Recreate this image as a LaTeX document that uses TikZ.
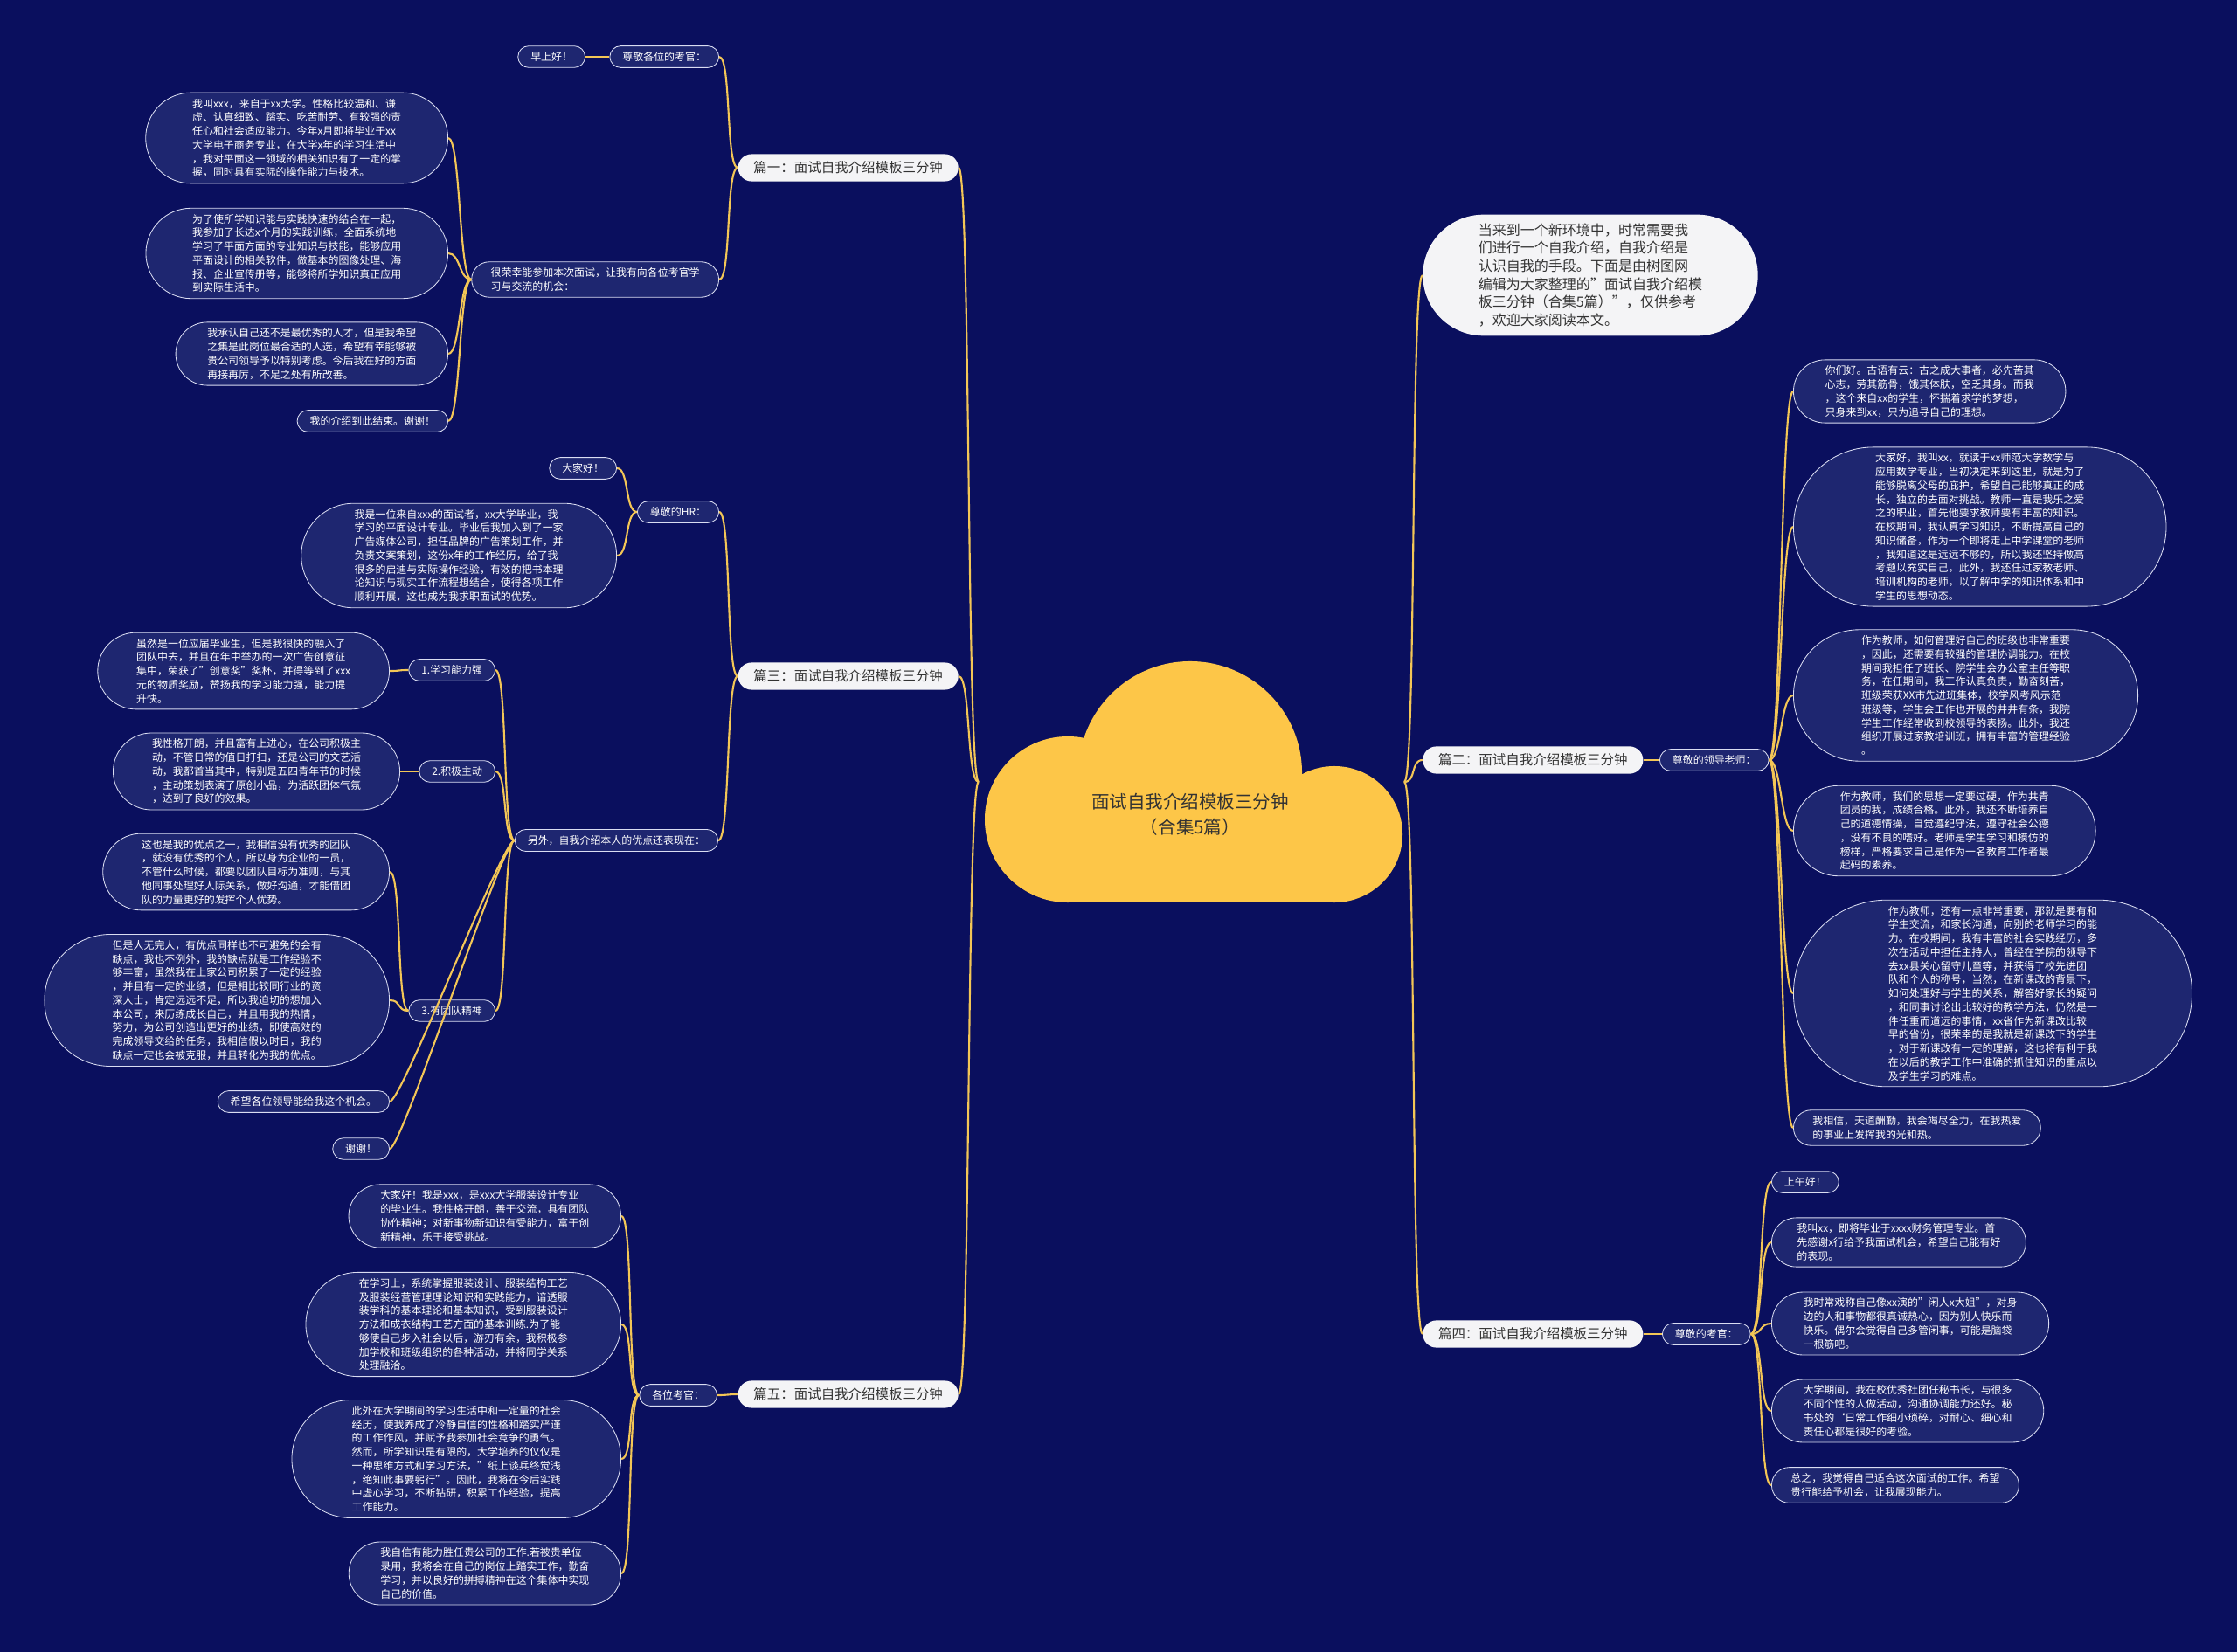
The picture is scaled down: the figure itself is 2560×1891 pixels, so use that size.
\documentclass[tikz,border=0pt]{standalone}
\usepackage{fontspec}
\setmainfont{Noto Sans CJK SC}
\usepackage{tikz}
\usetikzlibrary{shapes.misc}
\definecolor{bgblue}{HTML}{0A0F5E}
\definecolor{leafblue}{HTML}{1E2670}
\definecolor{leafrim}{HTML}{DADDF2}
\definecolor{linegold}{HTML}{F3C656}
\definecolor{cloudgold}{HTML}{FDC648}
\definecolor{pillgray}{HTML}{F4F4F6}
\definecolor{inkgray}{HTML}{333333}

\begin{document}
\begin{tikzpicture}[x=0.025cm,y=-0.025cm]
    \tikzset{line/.style={draw=linegold,line width=1.5pt}}
    \tikzset{lft/.style={line,out=180,in=0,out distance=0.35cm,in distance=0.35cm}}
    \tikzset{rgt/.style={line,out=0,in=180,out distance=0.35cm,in distance=0.35cm}}
    \tikzset{leaf/.style={rounded rectangle,draw=leafrim,line width=0.6pt,fill=leafblue,text=white,align=left,inner xsep=0.33cm,inner ysep=0.17cm,font=\fontsize{8.5pt}{11.2pt}\selectfont}}
    \tikzset{topic/.style={rounded rectangle,fill=pillgray,text=inkgray,inner xsep=0.4cm,minimum height=0.78cm,font=\fontsize{11pt}{14pt}\selectfont}}
    \tikzset{intro/.style={topic,align=left,inner xsep=0.75cm,inner ysep=0.25cm,font=\fontsize{11.4pt}{14.7pt}\selectfont}}

    \useasboundingbox (0,0) rectangle (2560,1891);
    \fill[bgblue] (0,0) rectangle (2560,1891);

    % cloud
    \fill[cloudgold] (1362,885) circle[radius=3.2cm];
    \fill[cloudgold] (1222,938) circle[radius=2.375cm];
    \fill[cloudgold] (1527,955) circle[radius=1.95cm];
    \fill[cloudgold] (1222,900) rectangle (1527,1033);
    \node[text=inkgray,align=center,font=\fontsize{14.6pt}{20.5pt}\selectfont] (root) at (1362,932) {面试自我介绍模板三分钟\\（合集5篇）};
    \coordinate (rootL) at (1120,895);
    \coordinate (rootR) at (1607,895);

    \node[topic,anchor=east] (L1) at (1097,192) {篇一：面试自我介绍模板三分钟};
    \node[topic,anchor=east] (L3) at (1097,774) {篇三：面试自我介绍模板三分钟};
    \node[topic,anchor=east] (L5) at (1097,1596) {篇五：面试自我介绍模板三分钟};
    \node[topic,anchor=west] (R2) at (1628,870) {篇二：面试自我介绍模板三分钟};
    \node[topic,anchor=west] (R4) at (1628,1527) {篇四：面试自我介绍模板三分钟};
    \node[intro,anchor=west] (intro) at (1628,315) {当来到一个新环境中，时常需要我\\们进行一个自我介绍，自我介绍是\\认识自我的手段。下面是由树图网\\编辑为大家整理的"面试自我介绍模\\板三分钟（合集5篇）"，仅供参考\\，欢迎大家阅读本文。};

    \node[leaf,anchor=east] (a1) at (823,65) {尊敬各位的考官：};
    \node[leaf,anchor=east] (a2) at (670,65) {早上好！};
    \node[leaf,inner xsep=0.42cm,anchor=east] (a3) at (823,320) {很荣幸能参加本次面试，让我有向各位考官学\\习与交流的机会：};
    \node[leaf,inner xsep=0.68cm,anchor=east] (a4) at (513,158) {我叫xxx，来自于xx大学。性格比较温和、谦\\虚、认真细致、踏实、吃苦耐劳、有较强的责\\任心和社会适应能力。今年x月即将毕业于xx\\大学电子商务专业，在大学x年的学习生活中\\，我对平面这一领域的相关知识有了一定的掌\\握，同时具有实际的操作能力与技术。};
    \node[leaf,inner xsep=0.68cm,anchor=east] (a5) at (513,290) {为了使所学知识能与实践快速的结合在一起，\\我参加了长达x个月的实践训练，全面系统地\\学习了平面方面的专业知识与技能，能够应用\\平面设计的相关软件，做基本的图像处理、海\\报、企业宣传册等，能够将所学知识真正应用\\到实际生活中。};
    \node[leaf,inner xsep=0.53cm,anchor=east] (a6) at (513,405) {我承认自己还不是最优秀的人才，但是我希望\\之集是此岗位最合适的人选，希望有幸能够被\\贵公司领导予以特别考虑。今后我在好的方面\\再接再厉，不足之处有所改善。};
    \node[leaf,anchor=east] (a7) at (513,482) {我的介绍到此结束。谢谢！};

    \node[leaf,anchor=east] (b1) at (823,586) {尊敬的HR：};
    \node[leaf,anchor=east] (b2) at (706,536) {大家好！};
    \node[leaf,inner xsep=0.72cm,anchor=east] (b3) at (706,636) {我是一位来自xxx的面试者，xx大学毕业，我\\学习的平面设计专业。毕业后我加入到了一家\\广告媒体公司，担任品牌的广告策划工作，并\\负责文案策划，这份x年的工作经历，给了我\\很多的启迪与实际操作经验，有效的把书本理\\论知识与现实工作流程想结合，使得各项工作\\顺利开展，这也成为我求职面试的优势。};
    \node[leaf,anchor=east] (b4) at (822,962) {另外，自我介绍本人的优点还表现在：};
    \node[leaf,anchor=east] (b5) at (567,767) {1.学习能力强};
    \node[leaf,inner xsep=0.6cm,anchor=east] (b6) at (446,768) {虽然是一位应届毕业生，但是我很快的融入了\\团队中去，并且在年中举办的一次广告创意征\\集中，荣获了"创意奖"奖杯，并得等到了xxx\\元的物质奖励，赞扬我的学习能力强，能力提\\升快。};
    \node[leaf,anchor=east] (b7) at (567,883) {2.积极主动};
    \node[leaf,inner xsep=0.6cm,anchor=east] (b8) at (458,883) {我性格开朗，并且富有上进心，在公司积极主\\动，不管日常的值日打扫，还是公司的文艺活\\动，我都首当其中，特别是五四青年节的时候\\，主动策划表演了原创小品，为活跃团体气氛\\，达到了良好的效果。};
    \node[leaf,anchor=east] (b9) at (567,1157) {3.有团队精神};
    \node[leaf,inner xsep=0.6cm,anchor=east] (b10) at (446,998) {这也是我的优点之一，我相信没有优秀的团队\\，就没有优秀的个人，所以身为企业的一员，\\不管什么时候，都要以团队目标为准则，与其\\他同事处理好人际关系，做好沟通，才能借团\\队的力量更好的发挥个人优势。};
    \node[leaf,inner xsep=0.84cm,anchor=east] (b11) at (446,1145) {但是人无完人，有优点同样也不可避免的会有\\缺点，我也不例外，我的缺点就是工作经验不\\够丰富，虽然我在上家公司积累了一定的经验\\，并且有一定的业绩，但是相比较同行业的资\\深人士，肯定远远不足，所以我迫切的想加入\\本公司，来历练成长自己，并且用我的热情，\\努力，为公司创造出更好的业绩，即使高效的\\完成领导交给的任务，我相信假以时日，我的\\缺点一定也会被克服，并且转化为我的优点。};
    \node[leaf,anchor=east] (b12) at (446,1261) {希望各位领导能给我这个机会。};
    \node[leaf,anchor=east] (b13) at (446,1315) {谢谢！};

    \node[leaf,anchor=east] (c1) at (821,1597) {各位考官：};
    \node[leaf,inner xsep=0.53cm,anchor=east] (c2) at (711,1392) {大家好！我是xxx，是xxx大学服装设计专业\\的毕业生。我性格开朗，善于交流，具有团队\\协作精神；对新事物新知识有受能力，富于创\\新精神，乐于接受挑战。};
    \node[leaf,inner xsep=0.72cm,anchor=east] (c3) at (711,1516) {在学习上，系统掌握服装设计、服装结构工艺\\及服装经营管理理论知识和实践能力，谙透服\\装学科的基本理论和基本知识，受到服装设计\\方法和成衣结构工艺方面的基本训练.为了能\\够使自己步入社会以后，游刃有余，我积极参\\加学校和班级组织的各种活动，并将同学关系\\处理融洽。};
    \node[leaf,inner xsep=0.77cm,anchor=east] (c4) at (711,1670) {此外在大学期间的学习生活中和一定量的社会\\经历，使我养成了冷静自信的性格和踏实严谨\\的工作作风，并赋予我参加社会竞争的勇气。\\然而，所学知识是有限的，大学培养的仅仅是\\一种思维方式和学习方法，"纸上谈兵终觉浅\\，绝知此事要躬行"。因此，我将在今后实践\\中虚心学习，不断钻研，积累工作经验，提高\\工作能力。};
    \node[leaf,inner xsep=0.53cm,anchor=east] (c5) at (711,1801) {我自信有能力胜任贵公司的工作.若被贵单位\\录用，我将会在自己的岗位上踏实工作，勤奋\\学习，并以良好的拼搏精神在这个集体中实现\\自己的价值。};

    \node[leaf,anchor=west] (d1) at (1899,870) {尊敬的领导老师：};
    \node[leaf,inner xsep=0.53cm,anchor=west] (d2) at (2052,448) {你们好。古语有云：古之成大事者，必先苦其\\心志，劳其筋骨，饿其体肤，空乏其身。而我\\，这个来自xx的学生，怀揣着求学的梦想，\\只身来到xx，只为追寻自己的理想。};
    \node[leaf,inner xsep=0.93cm,anchor=west] (d3) at (2052,603) {大家好，我叫xx，就读于xx师范大学数学与\\应用数学专业，当初决定来到这里，就是为了\\能够脱离父母的庇护，希望自己能够真正的成\\长，独立的去面对挑战。教师一直是我乐之爱\\之的职业，首先他要求教师要有丰富的知识。\\在校期间，我认真学习知识，不断提高自己的\\知识储备，作为一个即将走上中学课堂的老师\\，我知道这是远远不够的，所以我还坚持做高\\考题以充实自己，此外，我还任过家教老师、\\培训机构的老师，以了解中学的知识体系和中\\学生的思想动态。};
    \node[leaf,inner xsep=0.84cm,anchor=west] (d4) at (2052,796) {作为教师，如何管理好自己的班级也非常重要\\，因此，还需要有较强的管理协调能力。在校\\期间我担任了班长、院学生会办公室主任等职\\务，在任期间，我工作认真负责，勤奋刻苦，\\班级荣获XX市先进班集体，校学风考风示范\\班级等，学生会工作也开展的井井有条，我院\\学生工作经常收到校领导的表扬。此外，我还\\组织开展过家教培训班，拥有丰富的管理经验\\。};
    \node[leaf,inner xsep=0.68cm,anchor=west] (d5) at (2052,951) {作为教师，我们的思想一定要过硬，作为共青\\团员的我，成绩合格。此外，我还不断培养自\\己的道德情操，自觉遵纪守法，遵守社会公德\\，没有不良的嗜好。老师是学生学习和模仿的\\榜样，严格要求自己是作为一名教育工作者最\\起码的素养。};
    \node[leaf,inner xsep=0.98cm,anchor=west] (d6) at (2052,1137) {作为教师，还有一点非常重要，那就是要有和\\学生交流，和家长沟通，向别的老师学习的能\\力。在校期间，我有丰富的社会实践经历，多\\次在活动中担任主持人，曾经在学院的领导下\\去xx县关心留守儿童等，并获得了校先进团\\队和个人的称号，当然，在新课改的背景下，\\如何处理好与学生的关系，解答好家长的疑问\\，和同事讨论出比较好的教学方法，仍然是一\\件任重而道远的事情，xx省作为新课改比较\\早的省份，很荣幸的是我就是新课改下的学生\\，对于新课改有一定的理解，这也将有利于我\\在以后的教学工作中准确的抓住知识的重点以\\及学生学习的难点。};
    \node[leaf,inner xsep=0.42cm,anchor=west] (d7) at (2052,1291) {我相信，天道酬勤，我会竭尽全力，在我热爱\\的事业上发挥我的光和热。};

    \node[leaf,anchor=west] (e1) at (1902,1527) {尊敬的考官：};
    \node[leaf,anchor=west] (e2) at (2027,1353) {上午好！};
    \node[leaf,inner xsep=0.48cm,anchor=west] (e3) at (2027,1422) {我叫xx，即将毕业于xxxx财务管理专业。首\\先感谢x行给予我面试机会，希望自己能有好\\的表现。};
    \node[leaf,inner xsep=0.53cm,anchor=west] (e4) at (2027,1515) {我时常戏称自己像xx演的"闲人x大姐"，对身\\边的人和事物都很真诚热心，因为别人快乐而\\快乐。偶尔会觉得自己多管闲事，可能是脑袋\\一根筋吧。};
    \node[leaf,inner xsep=0.53cm,anchor=west] (e5) at (2027,1615) {大学期间，我在校优秀社团任秘书长，与很多\\不同个性的人做活动，沟通协调能力还好。秘\\书处的`日常工作细小琐碎，对耐心、细心和\\责任心都是很好的考验。};
    \node[leaf,inner xsep=0.42cm,anchor=west] (e6) at (2027,1700) {总之，我觉得自己适合这次面试的工作。希望\\贵行能给予机会，让我展现能力。};

    \path[lft] (rootL) to (L1.east);
    \path[lft] (rootL) to (L3.east);
    \path[lft] (rootL) to (L5.east);
    \path[rgt] (rootR) to (intro.west);
    \path[rgt] (rootR) to (R2.west);
    \path[rgt] (rootR) to (R4.west);

    \path[lft] (L1.west) to (a1.east);
    \path[lft] (L1.west) to (a3.east);
    \path[lft] (a1.west) to (a2.east);
    \path[lft] (a3.west) to (a4.east);
    \path[lft] (a3.west) to (a5.east);
    \path[lft] (a3.west) to (a6.east);
    \path[lft] (a3.west) to (a7.east);

    \path[lft] (L3.west) to (b1.east);
    \path[lft] (L3.west) to (b4.east);
    \path[lft] (b1.west) to (b2.east);
    \path[lft] (b1.west) to (b3.east);
    \path[lft] (b4.west) to (b5.east);
    \path[lft] (b4.west) to (b7.east);
    \path[lft] (b4.west) to (b9.east);
    \path[lft] (b4.west) to (b12.east);
    \path[lft] (b4.west) to (b13.east);
    \path[lft] (b5.west) to (b6.east);
    \path[lft] (b7.west) to (b8.east);
    \path[lft] (b9.west) to (b10.east);
    \path[lft] (b9.west) to (b11.east);

    \path[lft] (L5.west) to (c1.east);
    \path[lft] (c1.west) to (c2.east);
    \path[lft] (c1.west) to (c3.east);
    \path[lft] (c1.west) to (c4.east);
    \path[lft] (c1.west) to (c5.east);

    \path[rgt] (R2.east) to (d1.west);
    \path[rgt] (d1.east) to (d2.west);
    \path[rgt] (d1.east) to (d3.west);
    \path[rgt] (d1.east) to (d4.west);
    \path[rgt] (d1.east) to (d5.west);
    \path[rgt] (d1.east) to (d6.west);
    \path[rgt] (d1.east) to (d7.west);

    \path[rgt] (R4.east) to (e1.west);
    \path[rgt] (e1.east) to (e2.west);
    \path[rgt] (e1.east) to (e3.west);
    \path[rgt] (e1.east) to (e4.west);
    \path[rgt] (e1.east) to (e5.west);
    \path[rgt] (e1.east) to (e6.west);
\end{tikzpicture}
\end{document}
